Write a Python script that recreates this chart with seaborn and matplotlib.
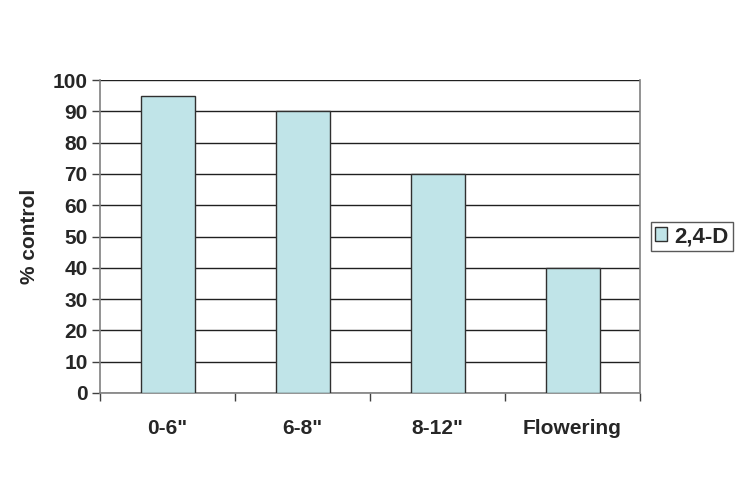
import numpy as np
import pandas as pd
import seaborn as sns
from matplotlib import pyplot as plt
from matplotlib.ticker import FixedLocator

stages = ['0-6"', '6-8"', '8-12"', 'Flowering']
control = [95, 90, 70, 40]
yticks = list(range(0, 101, 10))

df = pd.DataFrame({'stage': stages, 'control': control})

sns.set_style('white')
plt.rcParams['font.family'] = ['Liberation Sans', 'DejaVu Sans']

fig = plt.figure(figsize=(7.36, 4.8), dpi=100)
ax = fig.add_axes([100 / 736, 87 / 480, 540 / 736, 313 / 480])

sns.barplot(data=df, x='stage', y='control', color='#c0e4e8', width=0.4,
            edgecolor='#303030', linewidth=1, saturation=1, ax=ax,
            label='2,4-D', zorder=3)

ax.set_xlim(-0.5, 3.5)
ax.set_ylim(0, 100)
ax.set_yticks(yticks)
ax.yaxis.grid(True, color='#202020', linewidth=1, zorder=0)
ax.set_axisbelow(True)

for s in ['left', 'right', 'bottom']:
    ax.spines[s].set_color('#808080')
    ax.spines[s].set_linewidth(1.2)
ax.spines['top'].set_visible(False)

ax.tick_params(axis='y', which='major', direction='out', length=6, width=1,
               color='#404040', labelsize=15, pad=3, left=True)
ax.tick_params(axis='x', which='major', length=0, labelsize=15, pad=19)
ax.xaxis.set_minor_locator(FixedLocator(np.arange(-0.5, 4, 1)))
ax.tick_params(axis='x', which='minor', direction='out', length=6, width=1,
               color='#404040', bottom=True)
for lab in ax.get_xticklabels() + ax.get_yticklabels():
    lab.set_fontweight('bold')

ax.set_xlabel('')
ax.set_ylabel('% control', fontsize=15, fontweight='bold', labelpad=10)

leg = ax.legend(loc='center left', bbox_to_anchor=(1.02, 0.5), frameon=True,
                fancybox=False, prop={'size': 16, 'weight': 'bold'},
                handlelength=0.55, handleheight=0.55, handletextpad=0.3,
                borderpad=0.2, borderaxespad=0)
leg.get_frame().set_edgecolor('#303030')
leg.get_frame().set_linewidth(1)

fig.savefig('out.png', dpi=100)
